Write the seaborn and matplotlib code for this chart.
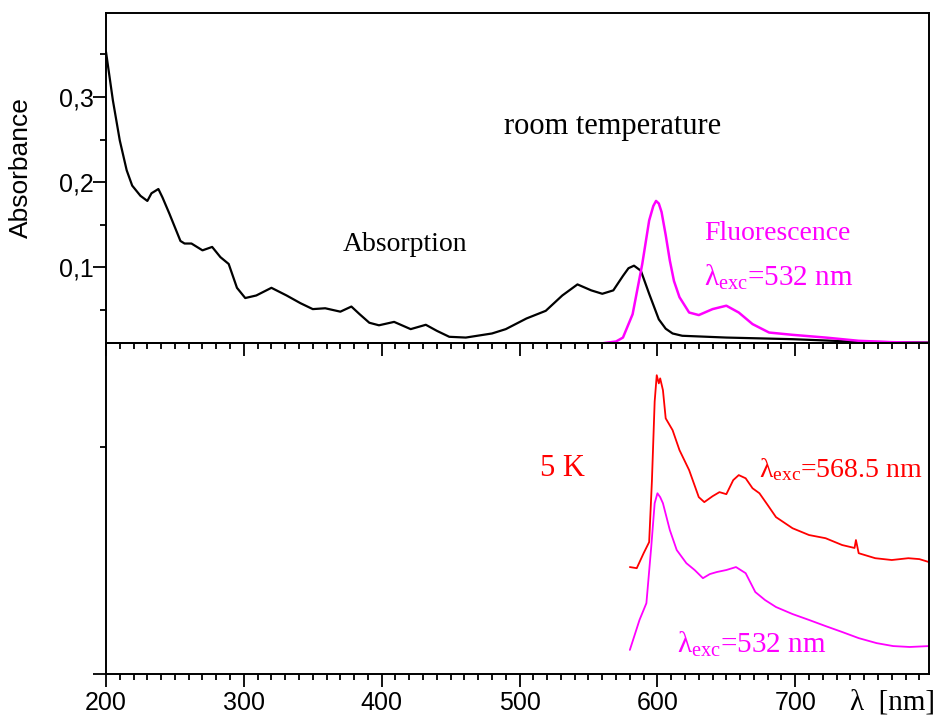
import numpy as np
import pandas as pd
import matplotlib
matplotlib.use("Agg")
import matplotlib.pyplot as plt
import seaborn as sns
from matplotlib import font_manager
from matplotlib.ticker import MultipleLocator, FixedLocator, FuncFormatter, NullFormatter

# --- data (wavelength in nm) ---
abs_wl = [200, 205, 210, 215, 219, 225, 230, 233, 238, 241, 246, 254, 257, 262, 270,
          277, 283, 289, 295, 301, 309, 320, 331, 341, 350, 359, 370, 378, 384, 391,
          398, 409, 421, 432, 440, 449, 461, 480, 490, 505, 519, 531, 542, 552, 560,
          568, 575, 579, 583, 588, 594, 601, 606, 611, 618, 650, 698, 746, 797]
abs_val = [0.353, 0.296, 0.249, 0.214, 0.196, 0.184, 0.178, 0.187, 0.192, 0.182, 0.163,
           0.131, 0.128, 0.128, 0.120, 0.124, 0.112, 0.104, 0.076, 0.064, 0.067, 0.076,
           0.067, 0.058, 0.051, 0.052, 0.048, 0.054, 0.045, 0.035, 0.032, 0.036, 0.0275,
           0.0326, 0.0255, 0.0185, 0.0176, 0.0224, 0.0275, 0.040, 0.049, 0.067, 0.080,
           0.073, 0.069, 0.073, 0.090, 0.099, 0.102, 0.096, 0.069, 0.039, 0.028, 0.0224,
           0.0197, 0.0176, 0.0157, 0.0126, 0.0118]

fl_wl = [559, 570, 575, 582, 589, 594, 597, 599, 601, 603, 606, 609, 612, 616, 623, 630,
         640, 650, 659, 669, 681, 698, 722, 746, 770, 797]
fl_val = [0.0106, 0.013, 0.0176, 0.045, 0.104, 0.155, 0.172, 0.178, 0.175, 0.165, 0.138,
          0.108, 0.084, 0.065, 0.047, 0.044, 0.051, 0.055, 0.047, 0.0334, 0.0235, 0.0208,
          0.0176, 0.0138, 0.0122, 0.0114]

# 5 K emission, arbitrary units
red_wl = [580, 585, 590, 594, 596, 598, 599.5, 601, 602, 604, 606, 611, 616, 623, 630,
          634, 640, 645, 650, 655, 659, 664, 669, 674, 680, 686, 698, 710, 722, 734,
          743, 744, 746, 758, 770, 782, 790, 797]
red_val = [0.471, 0.466, 0.532, 0.581, 0.85, 1.20, 1.316, 1.28, 1.302, 1.250, 1.126,
           1.074, 0.986, 0.898, 0.779, 0.757, 0.783, 0.801, 0.792, 0.854, 0.876, 0.862,
           0.818, 0.796, 0.744, 0.691, 0.642, 0.612, 0.598, 0.568, 0.555, 0.590, 0.532,
           0.510, 0.502, 0.510, 0.506, 0.493]

mag_wl = [580, 587, 592, 595.5, 598, 600, 602, 604, 609, 614, 621, 627, 633, 638, 643,
          650, 657, 664, 671, 678, 686, 698, 710, 722, 734, 746, 759, 771, 783, 797]
mag_val = [0.106, 0.238, 0.312, 0.559, 0.752, 0.796, 0.779, 0.752, 0.634, 0.546, 0.488,
           0.458, 0.422, 0.440, 0.449, 0.458, 0.471, 0.444, 0.361, 0.326, 0.295, 0.264,
           0.238, 0.211, 0.185, 0.158, 0.136, 0.123, 0.119, 0.123]

abs_ticks = [0.1, 0.2, 0.3]

sns.set_style("ticks")
names = {f.name for f in font_manager.fontManager.ttflist}
sans = "Liberation Sans Narrow" if "Liberation Sans Narrow" in names else "Liberation Sans"
tick_size = 21 if sans == "Liberation Sans Narrow" else 18
plt.rcParams["font.family"] = [sans, "DejaVu Sans"]
plt.rcParams["text.color"] = "black"
plt.rcParams["axes.labelcolor"] = "black"
plt.rcParams["xtick.color"] = "black"
plt.rcParams["ytick.color"] = "black"
plt.rcParams["mathtext.fontset"] = "custom"
plt.rcParams["mathtext.rm"] = "Liberation Serif"
plt.rcParams["mathtext.it"] = "Liberation Serif:italic"
serif = ["Liberation Serif", "DejaVu Serif"]

fig = plt.figure(figsize=(9.35, 7.22), dpi=100)
L, R = 106 / 935, 929 / 935
top_b, mid, bot = 1 - 674 / 722, 1 - 342.5 / 722, 1 - 12.7 / 722
ax2 = fig.add_axes([L, top_b, R - L, mid - top_b])
ax1 = fig.add_axes([L, mid, R - L, bot - mid], sharex=ax2)
ax1.patch.set_visible(False)
ax2.patch.set_visible(False)

sns.lineplot(x=abs_wl, y=abs_val, ax=ax1, color="black", lw=1.6)
sns.lineplot(x=fl_wl, y=fl_val, ax=ax1, color="#ff00ff", lw=1.8)
sns.lineplot(x=red_wl, y=red_val, ax=ax2, color="#ff0000", lw=1.3)
sns.lineplot(x=mag_wl, y=mag_val, ax=ax2, color="#ff00ff", lw=1.3)

ax1.set_xlim(200, 797)
ax1.set_ylim(0.0118, 0.399)
ax2.set_ylim(0, 1.46)

for ax in (ax1, ax2):
    for s in ax.spines.values():
        s.set_linewidth(1.4)
        s.set_color("black")
    ax.xaxis.set_major_locator(MultipleLocator(100))
    ax.xaxis.set_minor_locator(MultipleLocator(10))
    ax.tick_params(which="major", direction="out", length=9.5, width=1.3,
                   color="black", labelcolor="black")
    ax.tick_params(which="minor", direction="out", length=4.5, width=1.3, color="black")
    ax.tick_params(which="both", top=False, right=False)

ax1.yaxis.set_major_locator(FixedLocator(abs_ticks))
ax1.yaxis.set_minor_locator(MultipleLocator(0.05))
ax1.yaxis.set_major_formatter(FuncFormatter(lambda v, p: f"{v:.1f}".replace(".", ",")))
ax1.tick_params(axis="y", labelsize=tick_size, pad=-1)
ax1.tick_params(axis="x", which="both", labelbottom=False)
ax1.set_xlabel("")
ax1.set_ylabel("Absorbance", fontsize=tick_size + 1, color="black")
ax1.yaxis.set_label_coords(-0.089, 0.53)

ax2.yaxis.set_major_locator(FixedLocator([0]))
ax2.yaxis.set_minor_locator(FixedLocator([1]))
ax2.yaxis.set_major_formatter(NullFormatter())
ax2.tick_params(axis="x", labelsize=tick_size, pad=3)
ax2.set_xlabel("")
ax2.set_ylabel("")

ax1.text(489, 0.257, "room temperature", family=serif, fontsize=22, color="black")
ax1.text(372, 0.1196, "Absorption", family=serif, fontsize=20, color="black")
ax1.text(634, 0.132, "Fluorescence", family=serif, fontsize=20, color="#ff00ff")
ax1.text(634, 0.078, r"$\mathrm{\lambda_{exc}}$=532 nm", family=serif, fontsize=21,
         color="#ff00ff")

ax2.text(515, 0.871, "5 K", family=serif, fontsize=22, color="#ff0000")
ax2.text(674, 0.868, r"$\mathrm{\lambda_{exc}}$=568.5 nm", family=serif, fontsize=20,
         color="#ff0000")
ax2.text(614.5, 0.092, r"$\mathrm{\lambda_{exc}}$=532 nm", family=serif, fontsize=21,
         color="#ff00ff")

fig.text(850 / 935, 1 - 703 / 722, "λ  [nm]", family=serif, fontsize=21,
         ha="left", va="center")

fig.savefig("out.png", dpi=100)
